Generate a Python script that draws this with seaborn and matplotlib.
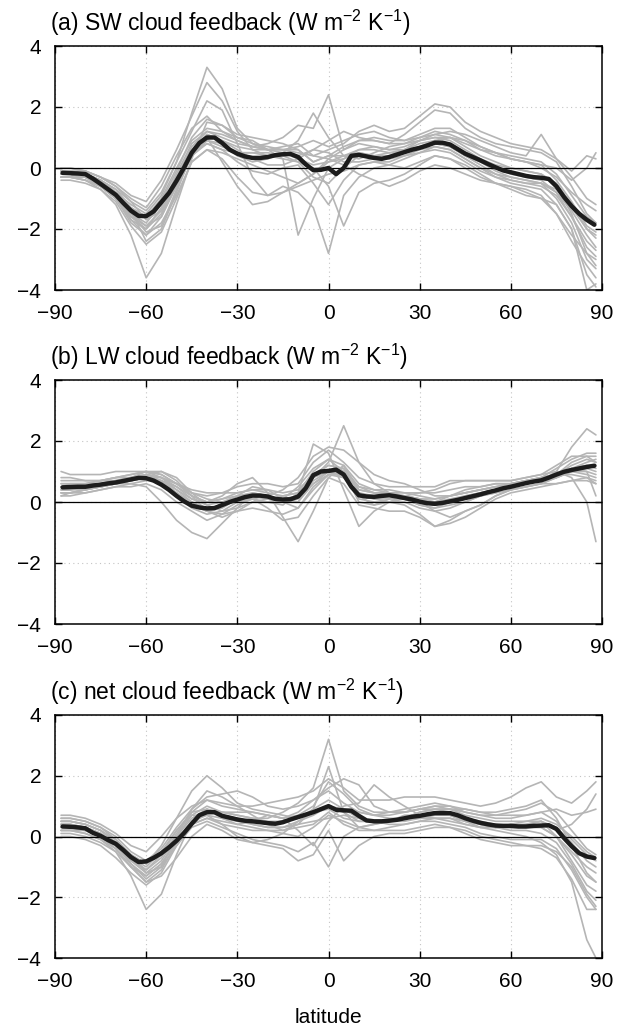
import numpy as np
import pandas as pd
import matplotlib
matplotlib.use("Agg")
import matplotlib.pyplot as plt
import seaborn as sns

# latitude grids
lat_models = [-88] + list(range(-85, 90, 5)) + [88]
lat_mean = list(np.arange(-87.5, 90, 2.5))

# multi-model mean (black line)
sw_mean = [-0.16, -0.17, -0.18, -0.2, -0.35, -0.52, -0.7, -0.88, -1.15, -1.4,
           -1.57, -1.58, -1.42, -1.12, -0.82, -0.42, 0.02, 0.5, 0.82, 1.0,
           1.0, 0.82, 0.6, 0.47, 0.38, 0.33, 0.33, 0.36, 0.42, 0.45,
           0.46, 0.36, 0.12, -0.07, -0.06, 0.0, -0.2, 0.0, 0.4, 0.43,
           0.38, 0.33, 0.3, 0.36, 0.44, 0.52, 0.6, 0.66, 0.74, 0.83,
           0.83, 0.77, 0.62, 0.47, 0.36, 0.25, 0.13, 0.02, -0.08, -0.14,
           -0.2, -0.26, -0.3, -0.32, -0.36, -0.6, -0.95, -1.25, -1.5, -1.7,
           -1.86]
lw_mean = [0.48, 0.49, 0.5, 0.5, 0.54, 0.57, 0.61, 0.64, 0.69, 0.74,
           0.79, 0.78, 0.7, 0.57, 0.4, 0.2, 0.02, -0.12, -0.18, -0.21,
           -0.2, -0.1, 0.0, 0.08, 0.16, 0.21, 0.21, 0.18, 0.1, 0.08,
           0.09, 0.18, 0.45, 0.88, 1.0, 1.02, 1.06, 0.9, 0.5, 0.22,
           0.18, 0.17, 0.2, 0.22, 0.18, 0.13, 0.08, 0.01, -0.04, -0.06,
           -0.03, 0.02, 0.07, 0.13, 0.19, 0.25, 0.32, 0.38, 0.45, 0.5,
           0.56, 0.62, 0.67, 0.71, 0.8, 0.9, 0.99, 1.05, 1.1, 1.15,
           1.19]
net_mean = [0.33, 0.32, 0.3, 0.27, 0.12, 0.02, -0.12, -0.24, -0.45, -0.68,
            -0.84, -0.82, -0.7, -0.55, -0.36, -0.14, 0.12, 0.42, 0.7, 0.8,
            0.8, 0.68, 0.62, 0.56, 0.52, 0.5, 0.47, 0.44, 0.42, 0.47,
            0.56, 0.64, 0.72, 0.8, 0.9, 1.0, 0.88, 0.86, 0.85, 0.68,
            0.53, 0.5, 0.5, 0.52, 0.55, 0.6, 0.65, 0.68, 0.73, 0.77,
            0.77, 0.77, 0.7, 0.6, 0.52, 0.45, 0.4, 0.36, 0.35, 0.35,
            0.33, 0.33, 0.35, 0.36, 0.37, 0.25, -0.05, -0.32, -0.55, -0.66,
            -0.71]

# individual models (grey lines), approximate traces
sw_models = [
    [-0.1, -0.1, -0.2, -0.4, -0.8, -1.2, -1.5, -0.9, 0.2, 1.8, 3.3, 2.6, 1.3, 0.8, 0.6, 0.5, 0.3, 0.1, 0.2,
     0.3, 0.5, 0.4, 0.5, 0.6, 0.8, 0.9, 0.8, 0.5, 0.3, 0.1, 0.0, -0.1, -0.2, -0.5, -1.2, -2.0, -2.3],
    [-0.3, -0.3, -0.4, -0.7, -1.2, -2.2, -3.6, -2.8, -1.2, 0.3, 1.5, 1.4, 1.0, 0.8, 0.7, 0.6, 0.6, 0.2, 0.4,
     0.4, 0.5, 0.4, 0.4, 0.6, 0.9, 1.1, 1.0, 0.7, 0.4, 0.2, 0.0, -0.1, -0.2, -0.6, -1.5, -2.8, -3.2],
    [-0.2, -0.2, -0.3, -0.5, -0.9, -1.5, -1.8, -1.2, -0.3, 0.7, 1.2, 1.0, 0.8, 0.7, 0.8, 1.0, 1.4, 1.3, 2.4,
     0.6, 0.8, 0.7, 0.6, 0.7, 0.9, 1.0, 1.0, 0.8, 0.6, 0.5, 0.4, 0.3, 0.2, -0.2, -0.9, -1.6, -1.8],
    [-0.3, -0.3, -0.4, -0.6, -1.0, -1.8, -2.2, -1.8, -0.9, 0.2, 0.6, 0.3, -0.3, -0.8, -0.9, -0.6, -0.8, -1.3, -2.8,
     -0.9, -0.3, 0.0, 0.1, 0.3, 0.5, 0.7, 0.6, 0.3, 0.0, -0.3, -0.5, -0.6, -0.7, -1.2, -2.0, -3.5, -3.9],
    [0.0, 0.0, -0.1, -0.3, -0.6, -1.0, -1.3, -0.6, 0.4, 1.3, 1.7, 1.2, 0.9, 0.7, 0.6, 0.6, 0.5, 0.4, 0.6,
     0.8, 1.2, 1.4, 1.2, 1.3, 1.7, 2.1, 2.0, 1.5, 1.2, 1.0, 0.8, 0.7, 0.6, 0.3, -0.3, -1.0, -1.2],
    [-0.2, -0.2, -0.3, -0.5, -0.8, -1.4, -2.4, -2.0, -0.8, 0.5, 1.0, 0.2, -0.6, -1.2, -1.1, -0.8, -0.6, -0.4, -0.2,
     -0.1, 0.1, 0.2, 0.2, 0.4, 0.5, 0.6, 0.5, 0.2, -0.1, -0.3, -0.4, -0.5, -0.6, -0.9, -1.6, -2.6, -2.9],
    [-0.1, -0.1, -0.2, -0.4, -0.7, -1.3, -1.6, -1.0, 0.0, 0.9, 1.3, 1.2, 1.0, 0.9, 0.6, 0.3, -2.2, -1.0, 0.0,
     0.3, 0.6, 0.7, 0.6, 0.6, 0.7, 0.9, 1.0, 0.9, 0.7, 0.5, 0.3, 0.2, 0.0, -0.3, -0.8, -1.2, -1.4],
    [-0.3, -0.3, -0.4, -0.6, -1.0, -1.7, -2.0, -1.5, -0.5, 0.5, 0.9, 0.7, 0.5, 0.5, 0.4, 0.3, 0.2, 0.0, -0.6,
     -1.9, -0.8, -0.5, -0.4, -0.2, 0.1, 0.4, 0.3, 0.0, -0.3, -0.5, -0.6, -0.7, -0.9, -1.5, -2.2, -2.8, -3.0],
    [-0.2, -0.2, -0.3, -0.5, -0.9, -1.6, -2.0, -1.3, -0.2, 0.8, 1.2, 1.1, 0.9, 0.7, 0.6, 0.6, 0.7, 0.9, 0.7,
     0.9, 1.1, 1.2, 1.0, 0.9, 1.0, 1.1, 1.2, 1.1, 0.9, 0.7, 0.5, 0.4, 1.1, 0.3, -0.1, 0.4, 0.3],
    [-0.4, -0.4, -0.5, -0.7, -1.1, -1.9, -2.5, -2.1, -1.0, 0.2, 0.6, 0.5, 0.3, 0.1, -0.1, -0.3, -0.5, -0.2, 0.3,
     0.1, -0.2, -0.4, -0.6, -0.4, -0.1, 0.1, 0.0, -0.2, -0.4, -0.5, -0.6, -0.8, -1.0, -1.5, -2.4, -3.2, -3.6],
    [-0.1, -0.1, -0.1, -0.3, -0.5, -0.9, -1.1, -0.4, 0.6, 1.7, 2.8, 2.2, 1.2, 0.6, 0.4, 0.5, 0.9, 1.8, 1.0,
     0.4, 0.3, 0.5, 0.7, 0.8, 1.0, 1.2, 1.1, 0.9, 0.6, 0.4, 0.3, 0.2, 0.1, 0.0, -0.4, 0.0, 0.5],
    [-0.2, -0.2, -0.2, -0.4, -0.7, -1.1, -1.4, -0.8, 0.2, 1.2, 2.2, 1.9, 0.8, -0.3, -0.9, -0.8, -0.5, -0.2, 0.2,
     0.4, 0.6, 0.6, 0.5, 0.5, 0.7, 0.8, 0.7, 0.4, 0.2, -0.1, -0.3, -0.4, -0.5, -0.8, -1.4, -2.2, -2.6],
    [0.0, 0.0, -0.1, -0.3, -0.6, -1.1, -1.7, -1.4, -0.4, 0.6, 1.1, 0.9, 0.6, 0.3, 0.1, 0.1, 0.3, 0.6, 0.9,
     1.2, 1.0, 0.9, 0.8, 1.1, 1.5, 1.9, 1.8, 1.3, 1.0, 0.8, 0.7, 0.6, 0.5, 0.2, -0.6, -1.5, -1.8],
    [-0.3, -0.3, -0.3, -0.6, -1.0, -1.5, -1.9, -1.6, -0.6, 0.4, 0.8, 0.6, 0.2, -0.1, -0.2, 0.0, 0.1, -0.5, -1.2,
     -0.4, 0.1, 0.2, 0.1, 0.0, 0.2, 0.4, 0.3, 0.1, -0.2, -0.5, -0.7, -0.9, -1.0, -1.2, -2.0, -4.0, -3.8],
    [-0.2, -0.2, -0.3, -0.6, -1.0, -1.6, -1.9, -1.4, -0.4, 0.6, 1.1, 0.9, 0.7, 0.6, 0.6, 0.7, 0.8, 0.4, 0.3,
     0.6, 0.9, 0.9, 0.8, 0.8, 0.9, 1.0, 0.9, 0.6, 0.3, 0.0, -0.2, -0.3, -0.4, -0.8, -1.6, -2.4, -2.7],
    [-0.3, -0.3, -0.3, -0.5, -0.9, -1.7, -2.2, -1.6, -0.5, 0.5, 0.8, 0.6, 0.5, 0.5, 0.5, 0.4, 0.2, -0.3, -0.5,
     0.0, 0.4, 0.4, 0.3, 0.4, 0.6, 0.7, 0.6, 0.3, 0.0, -0.2, -0.3, -0.4, -0.5, -0.7, -1.3, -2.0, -2.2],
    [-0.1, -0.1, -0.2, -0.4, -0.8, -1.3, -1.6, -1.1, -0.1, 1.0, 1.6, 1.4, 1.1, 1.0, 0.9, 0.8, 0.6, 0.2, 0.4,
     0.7, 0.9, 1.0, 0.9, 0.9, 1.1, 1.3, 1.3, 1.0, 0.7, 0.5, 0.3, 0.2, 0.1, -0.4, -1.1, -1.9, -2.1],
    [-0.2, -0.2, -0.3, -0.5, -0.9, -1.5, -2.1, -1.9, -0.7, 0.4, 0.9, 0.8, 0.4, 0.2, 0.3, 0.5, 0.4, 0.6, 0.5,
     0.2, 0.2, 0.3, 0.3, 0.5, 0.7, 0.8, 0.7, 0.4, 0.1, -0.2, -0.4, -0.5, -0.5, -1.0, -1.8, -3.0, -3.3],
]

lw_models = [
    [0.5, 0.5, 0.5, 0.6, 0.6, 0.7, 0.8, 0.6, 0.3, 0.0, -0.3, -0.1, 0.2, 0.5, 0.4, 0.1, 0.0, 0.8, 1.3,
     2.5, 1.3, 0.6, 0.3, 0.1, -0.1, -0.2, 0.0, 0.1, 0.2, 0.4, 0.5, 0.6, 0.7, 1.0, 1.8, 2.4, 2.2],
    [0.3, 0.3, 0.4, 0.5, 0.6, 0.6, 0.5, 0.0, -0.6, -1.0, -1.2, -0.7, -0.2, 0.3, 0.2, 0.0, -0.2, 0.4, 0.9,
     1.0, 0.4, 0.3, 0.2, 0.1, -0.1, -0.2, -0.1, 0.0, 0.2, 0.3, 0.5, 0.6, 0.7, 0.8, 1.0, 0.9, 0.8],
    [0.8, 0.8, 0.7, 0.7, 0.8, 0.9, 1.0, 0.8, 0.4, 0.1, 0.0, 0.2, 0.6, 0.8, 0.3, -0.5, -1.3, -0.3, 0.8,
     1.2, 0.6, 0.4, 0.3, 0.2, 0.1, 0.0, 0.2, 0.3, 0.4, 0.5, 0.6, 0.7, 0.8, 0.9, 1.1, 1.3, 1.4],
    [0.4, 0.4, 0.5, 0.5, 0.6, 0.7, 0.8, 0.7, 0.3, -0.1, -0.3, -0.2, 0.1, 0.1, 0.0, -0.1, 0.3, 1.9, 1.6,
     0.4, -0.8, -0.3, 0.0, 0.2, 0.3, 0.3, 0.4, 0.5, 0.5, 0.6, 0.6, 0.7, 0.8, 0.9, 1.1, 1.0, 0.2],
    [1.0, 0.9, 0.9, 0.9, 1.0, 1.0, 1.0, 0.9, 0.6, 0.3, 0.2, 0.3, 0.5, 0.6, 0.6, 0.5, 0.6, 1.3, 1.7,
     1.3, 0.8, 0.6, 0.5, 0.5, 0.5, 0.5, 0.7, 0.7, 0.7, 0.7, 0.7, 0.8, 0.9, 1.0, 0.8, 0.0, -1.3],
    [0.2, 0.3, 0.3, 0.4, 0.5, 0.6, 0.7, 0.7, 0.5, 0.2, 0.0, 0.1, 0.2, 0.2, 0.1, 0.1, 0.2, 0.6, 0.9,
     0.8, 0.3, 0.1, 0.0, -0.1, -0.4, -0.8, -0.6, -0.3, -0.1, 0.2, 0.4, 0.5, 0.6, 0.6, 0.7, 0.7, 0.6],
    [0.5, 0.6, 0.6, 0.7, 0.8, 0.9, 1.0, 0.9, 0.6, 0.3, 0.1, 0.0, 0.0, 0.1, 0.2, 0.4, 0.8, 1.5, 1.8,
     1.7, 1.3, 0.9, 0.7, 0.6, 0.4, 0.2, 0.2, 0.3, 0.4, 0.5, 0.6, 0.7, 0.8, 1.1, 1.4, 1.6, 1.6],
    [0.6, 0.6, 0.6, 0.7, 0.7, 0.8, 0.9, 0.7, 0.3, -0.1, -0.3, -0.4, -0.3, -0.2, -0.3, -0.4, -0.2, 0.5, 0.9,
     0.9, 0.2, -0.1, 0.0, 0.1, 0.0, -0.3, -0.5, -0.3, -0.1, 0.2, 0.4, 0.5, 0.6, 0.8, 1.1, 1.2, 1.2],
    [0.3, 0.3, 0.4, 0.5, 0.6, 0.7, 0.8, 0.8, 0.6, 0.4, 0.3, 0.3, 0.3, 0.4, 0.4, 0.3, 0.4, 0.9, 1.2,
     1.1, 0.5, 0.3, 0.3, 0.3, 0.3, 0.4, 0.6, 0.7, 0.7, 0.7, 0.7, 0.8, 0.9, 1.2, 1.5, 1.5, 1.3],
    [0.4, 0.4, 0.5, 0.5, 0.6, 0.7, 0.9, 1.0, 0.8, 0.3, -0.1, -0.3, -0.2, 0.0, 0.0, 0.1, 0.5, 1.1, 1.4,
     1.0, 0.0, -0.1, 0.1, 0.2, 0.1, -0.1, 0.0, 0.2, 0.3, 0.4, 0.5, 0.6, 0.7, 0.9, 0.9, 0.8, 0.6],
    [0.7, 0.7, 0.7, 0.7, 0.8, 0.8, 1.0, 1.0, 0.7, 0.2, -0.3, -0.5, -0.3, 0.0, 0.1, 0.2, 0.3, 0.8, 1.0,
     0.9, 0.5, 0.4, 0.4, 0.3, 0.2, 0.1, 0.2, 0.4, 0.5, 0.6, 0.6, 0.7, 0.8, 0.9, 1.3, 1.5, 1.5],
    [0.2, 0.2, 0.3, 0.4, 0.5, 0.5, 0.6, 0.4, 0.0, -0.3, -0.6, -0.4, -0.1, 0.1, -0.2, -0.6, -0.5, 0.2, 0.8,
     0.6, -0.1, -0.2, -0.3, -0.3, -0.5, -0.8, -0.7, -0.5, -0.2, 0.1, 0.3, 0.4, 0.5, 0.6, 0.7, 0.8, 0.7],
    [0.6, 0.6, 0.6, 0.6, 0.7, 0.8, 0.9, 0.8, 0.5, 0.1, -0.1, 0.0, 0.2, 0.3, 0.2, 0.1, 0.2, 0.9, 1.2,
     1.1, 0.3, 0.2, 0.2, 0.2, 0.1, 0.0, 0.1, 0.2, 0.3, 0.4, 0.5, 0.6, 0.7, 0.9, 1.1, 1.2, 1.1],
    [0.4, 0.4, 0.4, 0.5, 0.6, 0.7, 0.8, 0.7, 0.4, 0.0, -0.2, -0.1, 0.1, 0.2, 0.1, 0.0, 0.1, 0.7, 1.0,
     0.8, 0.2, 0.1, 0.1, 0.1, 0.0, -0.1, 0.0, 0.1, 0.3, 0.4, 0.5, 0.6, 0.7, 0.8, 1.0, 1.1, 1.0],
    [0.5, 0.5, 0.5, 0.6, 0.7, 0.8, 0.9, 0.8, 0.6, 0.2, 0.0, 0.1, 0.3, 0.4, 0.3, 0.2, 0.3, 1.0, 1.4,
     1.2, 0.4, 0.3, 0.3, 0.2, 0.1, 0.1, 0.2, 0.3, 0.4, 0.5, 0.5, 0.6, 0.7, 0.9, 1.2, 1.4, 1.3],
    [0.3, 0.3, 0.4, 0.5, 0.6, 0.7, 0.8, 0.6, 0.2, -0.2, -0.4, -0.3, 0.0, 0.2, 0.1, 0.0, 0.0, 0.6, 1.0,
     0.9, 0.1, 0.0, 0.0, 0.0, -0.2, -0.3, -0.2, 0.0, 0.2, 0.3, 0.4, 0.5, 0.6, 0.8, 1.0, 1.0, 0.9],
]

net_models = [
    [0.4, 0.4, 0.3, 0.1, -0.2, -0.6, -0.9, -0.6, 0.0, 0.7, 1.0, 0.8, 0.7, 0.6, 0.6, 0.8, 1.1, 1.6, 3.2,
     1.5, 1.0, 0.8, 0.8, 0.8, 0.9, 0.9, 0.9, 0.7, 0.6, 0.5, 0.5, 0.5, 0.5, 0.3, -0.2, -0.8, -1.0],
    [0.2, 0.2, 0.1, -0.1, -0.5, -1.3, -2.4, -1.9, -0.6, 0.5, 0.9, 0.7, 0.6, 0.4, 0.3, 0.3, 0.4, 0.5, 0.6,
     0.7, 0.6, 0.5, 0.5, 0.6, 0.8, 0.9, 0.8, 0.6, 0.4, 0.3, 0.2, 0.2, 0.1, -0.2, -0.9, -1.8, -2.1],
    [0.5, 0.5, 0.4, 0.2, -0.1, -0.6, -0.9, -0.3, 0.6, 1.5, 2.0, 1.6, 1.1, 0.9, 0.8, 0.7, 0.6, 0.8, 1.0,
     0.9, 0.8, 0.7, 0.8, 0.9, 1.0, 1.1, 1.0, 0.9, 0.8, 0.8, 0.9, 1.0, 1.2, 0.6, -0.3, -1.2, -1.5],
    [0.0, 0.0, -0.1, -0.3, -0.7, -1.2, -1.6, -1.2, -0.3, 0.3, 0.5, 0.3, 0.1, -0.1, -0.2, -0.3, -0.5, -0.2, -1.0,
     0.0, 0.3, 0.4, 0.5, 0.5, 0.6, 0.6, 0.5, 0.4, 0.3, 0.2, 0.1, 0.0, -0.2, -0.6, -1.5, -3.4, -4.0],
    [0.7, 0.7, 0.6, 0.4, 0.1, -0.3, -0.5, 0.0, 0.6, 1.0, 1.2, 1.1, 1.0, 1.0, 1.1, 1.2, 1.3, 1.5, 1.9,
     1.6, 1.2, 1.2, 1.2, 1.3, 1.3, 1.3, 1.2, 1.1, 1.0, 1.1, 1.3, 1.6, 1.8, 1.3, 1.1, 1.5, 1.8],
    [0.3, 0.3, 0.2, 0.0, -0.4, -1.0, -1.5, -1.3, -0.7, 0.0, 0.4, 0.2, -0.1, -0.2, -0.3, -0.4, -0.8, -0.6, 0.2,
     -0.8, -0.3, 0.0, 0.1, 0.1, 0.2, 0.3, 0.3, 0.1, -0.1, -0.2, -0.3, -0.3, -0.4, -0.7, -1.4, -2.4, -2.4],
    [0.6, 0.6, 0.5, 0.3, 0.0, -0.5, -0.8, -0.4, 0.3, 0.9, 1.3, 1.4, 1.5, 1.3, 1.0, 0.9, 1.0, 1.2, 1.6,
     1.9, 1.7, 1.0, 0.8, 0.8, 0.9, 1.0, 0.9, 0.8, 0.7, 0.7, 0.8, 0.9, 1.1, 0.8, 0.2, -0.4, -0.6],
    [0.1, 0.1, 0.0, -0.2, -0.5, -1.0, -1.3, -0.9, -0.2, 0.4, 0.6, 0.5, 0.4, 0.3, 0.2, 0.1, 0.0, 0.3, 0.7,
     0.5, 0.3, 0.2, 0.2, 0.2, 0.3, 0.4, 0.3, 0.2, 0.0, -0.1, -0.2, -0.3, -0.3, -0.5, -1.0, -1.9, -2.3],
    [0.4, 0.4, 0.3, 0.1, -0.3, -0.8, -1.1, -0.6, 0.2, 0.8, 0.9, 0.6, 0.4, 0.5, 0.7, 0.6, 0.2, -0.3, 0.5,
     1.0, 1.1, 1.7, 1.3, 1.0, 0.7, 0.6, 0.6, 0.5, 0.4, 0.3, 0.3, 0.4, 0.5, 0.2, 0.4, 0.9, 1.4],
    [0.2, 0.2, 0.2, 0.0, -0.3, -0.9, -1.4, -1.0, 0.0, 0.9, 1.5, 1.3, 1.0, 0.7, 0.4, 0.2, 0.4, 0.9, 2.3,
     0.8, 0.3, 0.4, 0.5, 0.7, 0.7, 0.8, 0.7, 0.5, 0.3, 0.3, 0.4, 0.4, 0.5, 0.0, -0.8, -1.6, -1.8],
    [0.5, 0.5, 0.4, 0.2, -0.2, -0.7, -1.0, -0.5, 0.2, 0.7, 0.7, 0.4, 0.0, -0.2, -0.1, 0.1, 0.5, 0.8, 0.9,
     0.6, 0.5, 0.5, 0.4, 0.4, 0.5, 0.6, 0.6, 0.4, 0.3, 0.3, 0.4, 0.5, 0.6, 0.4, 0.0, -0.5, -0.7],
    [0.6, 0.6, 0.5, 0.3, -0.1, -0.6, -1.2, -1.0, -0.3, 0.4, 0.8, 0.8, 0.8, 0.8, 0.7, 0.6, 0.7, 1.0, 1.8,
     1.4, 0.9, 0.7, 0.6, 0.6, 0.8, 0.9, 0.9, 0.9, 0.8, 0.7, 0.7, 0.7, 0.8, 0.9, 0.7, 0.8, 0.9],
    [0.3, 0.3, 0.2, 0.0, -0.3, -0.8, -1.2, -0.8, 0.0, 0.6, 0.9, 0.8, 0.7, 0.6, 0.5, 0.5, 0.6, 0.9, 1.2,
     0.9, 0.6, 0.5, 0.5, 0.6, 0.7, 0.8, 0.7, 0.6, 0.5, 0.4, 0.3, 0.3, 0.3, 0.0, -0.6, -1.3, -1.5],
    [0.4, 0.4, 0.3, 0.1, -0.3, -0.9, -1.3, -0.9, -0.1, 0.5, 0.7, 0.6, 0.5, 0.4, 0.3, 0.3, 0.5, 0.7, 1.0,
     0.8, 0.5, 0.5, 0.5, 0.6, 0.6, 0.7, 0.7, 0.5, 0.4, 0.3, 0.3, 0.3, 0.3, 0.0, -0.5, -1.0, -1.2],
    [0.5, 0.5, 0.4, 0.2, -0.2, -0.7, -1.1, -0.7, 0.1, 0.8, 1.2, 1.0, 0.9, 0.8, 0.7, 0.6, 0.8, 1.2, 1.5,
     1.1, 0.8, 0.7, 0.7, 0.8, 0.9, 1.0, 1.0, 0.8, 0.7, 0.6, 0.6, 0.7, 0.8, 0.5, -0.1, -0.6, -0.8],
    [0.2, 0.2, 0.1, -0.1, -0.4, -1.0, -1.5, -1.1, -0.2, 0.4, 0.6, 0.4, 0.3, 0.2, 0.2, 0.2, 0.3, 0.4, 0.8,
     0.4, 0.2, 0.2, 0.3, 0.4, 0.5, 0.5, 0.4, 0.3, 0.1, 0.0, -0.1, -0.1, -0.1, -0.4, -1.1, -2.0, -2.4],
]

titles = ["(a) SW cloud feedback (W m$^{-2}$ K$^{-1}$)",
          "(b) LW cloud feedback (W m$^{-2}$ K$^{-1}$)",
          "(c) net cloud feedback (W m$^{-2}$ K$^{-1}$)"]

sns.set_theme(style="ticks")
plt.rcParams["font.family"] = ["Liberation Sans", "DejaVu Sans"]
plt.rcParams["mathtext.fontset"] = "custom"
plt.rcParams["mathtext.rm"] = "Liberation Sans"
plt.rcParams["mathtext.it"] = "Liberation Sans:italic"
plt.rcParams["text.color"] = "black"
plt.rcParams["axes.labelcolor"] = "black"
plt.rcParams["xtick.color"] = "black"
plt.rcParams["ytick.color"] = "black"

W, H = 623, 1034
fig = plt.figure(figsize=(W / 100, H / 100), dpi=100)

# axes boxes in pixels: top, bottom
boxes = [(46, 290), (380, 624), (715, 958)]
left_px, right_px = 55, 602

panels = [(sw_models, sw_mean), (lw_models, lw_mean), (net_models, net_mean)]

for i, ((models, mean), (top, bot)) in enumerate(zip(panels, boxes)):
    ax = fig.add_axes([left_px / W, 1 - bot / H, (right_px - left_px) / W, (bot - top) / H])

    for m in models:
        assert len(m) == len(lat_models), len(m)
    assert len(mean) == len(lat_mean)

    df = pd.DataFrame({
        "lat": np.tile(lat_models, len(models)),
        "value": np.concatenate(models),
        "model": np.repeat(np.arange(len(models)), len(lat_models)),
    })
    sns.lineplot(data=df, x="lat", y="value", units="model", estimator=None,
                 color="#b5b5b5", lw=1.2, ax=ax, zorder=2)
    ax.axhline(0, color="black", lw=0.9, zorder=2.5)
    sns.lineplot(x=lat_mean, y=mean, color="#1c1c1c", lw=3.2, ax=ax, zorder=3)

    ax.set_xlim(-90, 90)
    ax.set_ylim(-4, 4)
    ax.set_xticks(range(-90, 91, 30))
    ax.set_yticks([-4, -2, 0, 2, 4])
    ax.grid(True, ls=(0, (1, 3)), color="#c4c4c4", lw=0.8)
    ax.set_axisbelow(True)
    ax.tick_params(direction="in", top=True, right=True, length=5, width=1,
                   labelsize=15, color="black", labelcolor="black")
    ax.tick_params(axis="x", pad=10)
    ax.tick_params(axis="y", pad=10)
    for s in ax.spines.values():
        s.set_linewidth(1.1)
        s.set_color("black")
    ax.set_ylabel("")
    ax.set_xlabel("latitude" if i == 2 else "", fontsize=15, labelpad=12)
    ax.set_title(titles[i], loc="left", x=-0.01, pad=11, fontsize=16.5)

fig.savefig("out.png", dpi=100)
